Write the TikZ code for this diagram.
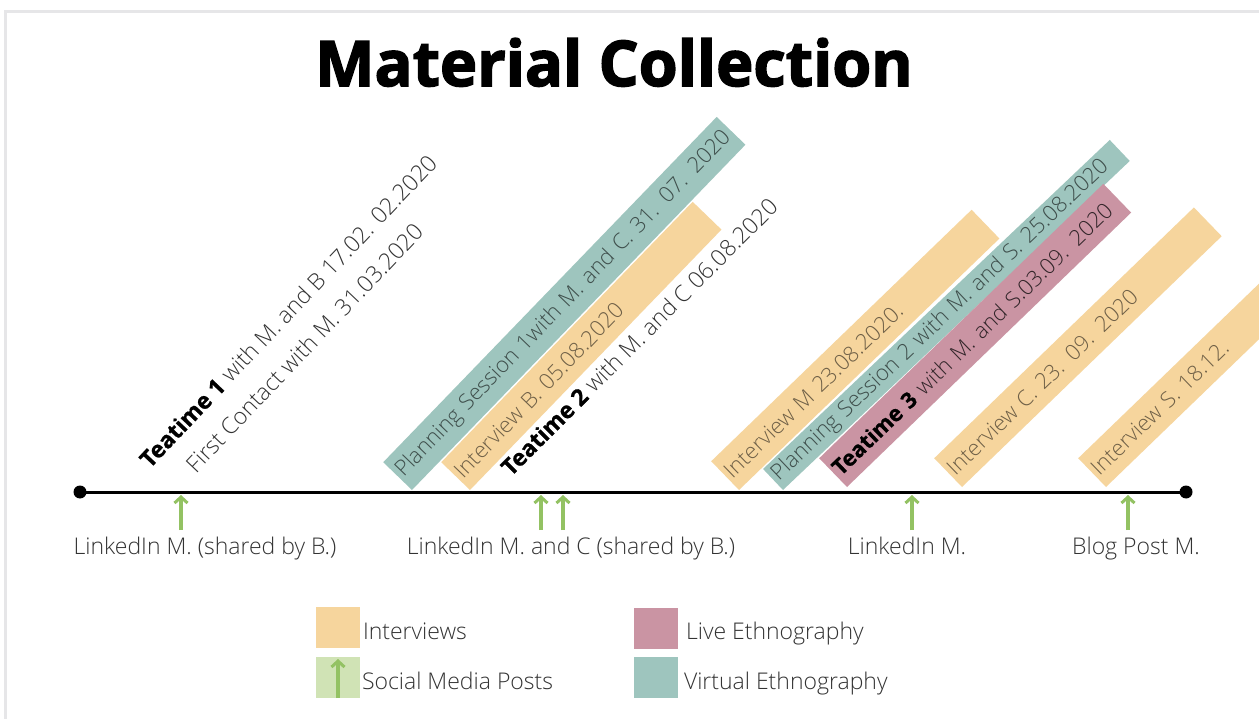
\documentclass[tikz,border=0pt]{standalone}
\usepackage{fontspec}
\setmainfont{Open Sans}[BoldFeatures={FakeBold=0.8}]
\newfontfamily\lightfont{Open Sans Light}
\newfontfamily\heavyfont{Open Sans}[BoldFeatures={FakeBold=2.4}]
\newcommand\boldlead[1]{{\fontspec{Open Sans}[BoldFeatures={FakeBold=0.8}]\bfseries\color{black}#1}}
\usetikzlibrary{arrows.meta}

\definecolor{cOrange}{HTML}{F6D59D}
\definecolor{cTeal}{HTML}{9EC5BE}
\definecolor{cPink}{HTML}{CA94A3}
\definecolor{cGreen}{HTML}{93C263}
\definecolor{cGreenLight}{HTML}{D0E3B5}
\definecolor{cText}{HTML}{333333}
\definecolor{cFrame}{HTML}{E6E6E8}

\begin{document}
\begin{tikzpicture}[x=1pt,y=-1pt,
  every node/.style={inner sep=0pt, outer sep=0pt},
  txt/.style={font=\lightfont\fontsize{23}{27}\selectfont, text=cText},
  band/.style={anchor=south west, minimum height=40pt,
    inner xsep=3pt, inner ysep=0pt, align=left,
    font=\lightfont\fontsize{22}{26}\selectfont},
  slanted/.style={txt, anchor=base west},
  garrow/.style={cGreen, line width=3.2pt,
    -{Straight Barb[length=6pt,width=13pt,line width=3pt]}},
  dot/.style={circle, fill=black, minimum size=13pt},
  legbox/.style={minimum width=44pt, minimum height=41pt},
]
\useasboundingbox (0,0) rectangle (1259,719);
\fill[white] (0,0) rectangle (1259,719);

% page frame
\draw[cFrame, line width=3pt] (5,719) -- (5,12) -- (1259,12);

% title
\node[font=\heavyfont\bfseries\fontsize{63}{72}\selectfont, anchor=base] (title) at (614,86) {Material Collection};

% events without a band
\node[slanted, rotate=46.5] (tea1) at (150,469) {\boldlead{Teatime 1} with M. and B 17.02. 02.2020};
\node[slanted, rotate=46.5] (first) at (196,474) {First Contact with M. 31.03.2020};
\node[slanted, rotate=45] (tea2) at (511,477) {\boldlead{Teatime 2} with M. and C 06.08.2020};

% banded events
\node[band, rotate=46, fill=cTeal, text=cTeal!40!black, text width=474pt] (ps1) at (412,490)
  {\mbox{Planning Session 1with M. and C. 31. 07. 2020}};
\node[band, rotate=46, fill=cOrange, text=cOrange!45!black, text width=356pt] (intB) at (470,490)
  {\mbox{Interview B. 05.08.2020}};
\node[band, rotate=44, fill=cOrange, text=cOrange!45!black, text width=356pt] (intM) at (739,490)
  {\mbox{Interview M 23.08.2020.}};
\node[band, rotate=43.5, fill=cTeal, text=cTeal!40!black, text width=472pt, minimum height=29pt] (ps2) at (783,490)
  {\mbox{Planning Session 2 with M. and S. 25.08.2020}};
\node[band, rotate=44, fill=cPink, text=cPink!25!black, text width=389pt] (tea3) at (847,487)
  {\mbox{\boldlead{Teatime 3} with M. and S.03.09. 2020}};
\node[band, rotate=44, fill=cOrange, text=cOrange!45!black, text width=355pt] (intC) at (962,487)
  {\mbox{Interview C. 23. 09. 2020}};
\node[band, rotate=44, fill=cOrange, text=cOrange!45!black, text width=355pt] (intS) at (1106,487)
  {\mbox{Interview S. 18.12.}};

% timeline
\node[dot] (tstart) at (80,492) {};
\node[dot] (tend) at (1186,492) {};
\draw[line width=3pt] (tstart.center) -- (tend.center);

% social media posts
\foreach \i/\x in {1/181, 2/541, 3/563, 4/912, 5/1128} {
  \coordinate (pb\i) at (\x,530);
  \coordinate (pt\i) at (\x,495);
  \draw[garrow] (pb\i) -- (pt\i);
}
\node[txt, anchor=base] (post1) at (205,554) {LinkedIn M. (shared by B.)};
\node[txt, anchor=base] (post2) at (571,554) {LinkedIn M. and C (shared by B.)};
\node[txt, anchor=base] (post3) at (907,554) {LinkedIn M.};
\node[txt, anchor=base] (post4) at (1136,554) {Blog Post M.};

% legend
\node[legbox, fill=cOrange] (legI) at (338,627.5) {};
\node[txt, anchor=base west] (legIt) at (363,639) {Interviews};
\node[legbox, fill=cGreenLight] (legS) at (338,677.5) {};
\draw[garrow] (legS.south) -- ([yshift=-2pt]legS.north);
\node[txt, anchor=base west] (legSt) at (362,689) {Social Media Posts};
\node[legbox, fill=cPink] (legL) at (656,628) {};
\node[txt, anchor=base west] (legLt) at (686,639) {Live Ethnography};
\node[legbox, fill=cTeal] (legV) at (656,677.5) {};
\node[txt, anchor=base west] (legVt) at (684,689) {Virtual Ethnography};
\end{tikzpicture}
\end{document}
